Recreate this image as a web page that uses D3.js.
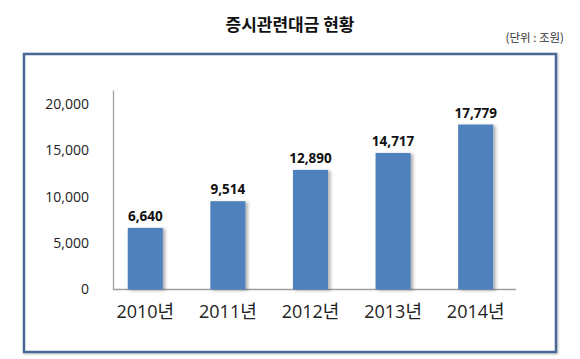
<!DOCTYPE html>
<html><head><meta charset="utf-8">
<script src="https://cdn.jsdelivr.net/npm/d3@7"></script>
<style>body{margin:0;background:#fff;}svg{display:block;}</style>
</head><body>
<svg id="c" width="580" height="359"></svg>
<script>
const categories = ["2010년","2011년","2012년","2013년","2014년"];
const values = [6640, 9514, 12890, 14717, 17779];
const yTicks = [0, 5000, 10000, 15000, 20000];
const title = "증시관련대금 현황";
const unitLabel = "(단위 : 조원)";

const svg = d3.select("#c");
const defs = svg.append("defs");
const f = defs.append("filter").attr("id","sh").attr("x","-20%").attr("y","-10%").attr("width","160%").attr("height","130%");
f.append("feDropShadow").attr("dx",2.5).attr("dy",1).attr("stdDeviation",1.5).attr("flood-color","#000").attr("flood-opacity",0.3);
const f2 = defs.append("filter").attr("id","fs");
f2.append("feDropShadow").attr("dx",1).attr("dy",1).attr("stdDeviation",0.8).attr("flood-color","#000").attr("flood-opacity",0.25);

const kfont = "'Noto Sans CJK KR', 'Noto Sans', sans-serif";
const mixfont = "'Open Sans', 'Noto Sans CJK KR', sans-serif";

svg.append("text").attr("x",290).attr("y",31).attr("text-anchor","middle")
  .attr("font-family",kfont).attr("font-weight","bold").attr("font-size",17).attr("fill","#111").text(title);
svg.append("text").attr("x",564).attr("y",42).attr("text-anchor","end")
  .attr("font-family",kfont).attr("font-size",11.5).attr("fill","#333").attr("xml:space","preserve").text(unitLabel);

svg.append("rect").attr("x",24).attr("y",54).attr("width",532).attr("height",298)
  .attr("fill","#fff").attr("stroke","#4a6796").attr("stroke-width",2.5).attr("filter","url(#fs)");

const x = d3.scaleBand().domain(categories).range([104, 517]).paddingInner(0.575).paddingOuter(0.2875);
const y = d3.scaleLinear().domain([0, 21500]).range([289.5, 90]);

const yAxis = svg.append("g").attr("transform","translate(113,0)")
  .call(d3.axisLeft(y).tickValues(yTicks).tickSize(0).tickPadding(24).tickFormat(d3.format(",")));
yAxis.select(".domain").attr("stroke","#a0a0a0").attr("stroke-width",1.3);
yAxis.selectAll("text").attr("font-family","'Open Sans', sans-serif").attr("font-size",14).attr("fill","#222");

const xAxis = svg.append("g").attr("transform","translate(0,289.5)")
  .call(d3.axisBottom(x).tickSize(0).tickPadding(16));
xAxis.select(".domain").remove();
xAxis.selectAll("text").attr("font-family",mixfont).attr("font-size",18).attr("fill","#222");
svg.append("line").attr("x1",113).attr("x2",516).attr("y1",y(0)).attr("y2",y(0))
  .attr("stroke","#a0a0a0").attr("stroke-width",1.3);

svg.append("g").selectAll("rect").data(values).join("rect")
  .attr("x",(d,i)=>x(categories[i])).attr("width",x.bandwidth())
  .attr("y",d=>y(d)).attr("height",d=>y(0)-y(d))
  .attr("fill","#4f81bd").attr("filter","url(#sh)");

svg.append("g").selectAll("text").data(values).join("text")
  .attr("x",(d,i)=>x(categories[i])+x.bandwidth()/2).attr("y",d=>y(d)-7)
  .attr("text-anchor","middle").attr("font-family","'Open Sans', sans-serif")
  .attr("font-weight","bold").attr("font-size",13.5).attr("fill","#111")
  .text(d=>d3.format(",")(d));
</script>
</body></html>
